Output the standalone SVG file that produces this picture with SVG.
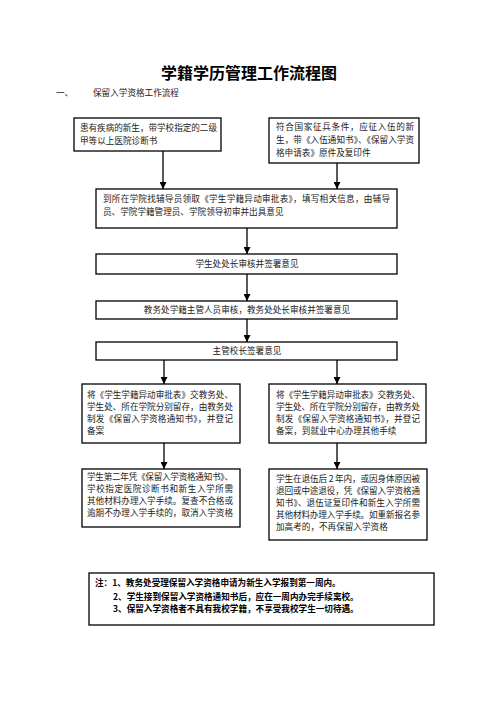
<svg xmlns="http://www.w3.org/2000/svg" width="496" height="702" viewBox="0 0 496 702">
<defs>
<marker id="ah" viewBox="0 0 10 10" refX="10" refY="5" markerWidth="7" markerHeight="7" markerUnits="userSpaceOnUse" orient="auto"><path d="M0,0 L10,5 L0,10 z" fill="#000"/></marker>
</defs>
<style>
.b{fill:#fff;stroke:#000;stroke-width:1.3}
.t{font-family:"Noto Sans CJK SC","Liberation Serif",serif;font-size:8.6px;fill:#222}
.c{text-anchor:middle}
.n{font-family:"Noto Sans CJK SC","Liberation Serif",serif;font-size:8.6px;font-weight:bold;fill:#000}
.l{stroke:#000;stroke-width:1.3;fill:none;marker-end:url(#ah)}
</style>
<rect width="496" height="702" fill="#fff"/>
<text x="249" y="79" text-anchor="middle" font-family="Noto Sans CJK SC,sans-serif" font-size="16" font-weight="bold">学籍学历管理工作流程图</text>
<text x="56" y="96" class="t">一、</text>
<text x="93" y="96" class="t">保留入学资格工作流程</text>

<g id="n1"><rect class="b" x="74" y="118" width="147" height="33"/>
<text class="t" x="80" y="131" textLength="137" lengthAdjust="spacing">患有疾病的新生，带学校指定的二级</text>
<text class="t" x="80" y="144">甲等以上医院诊断书</text></g>

<g id="n2"><rect class="b" x="269" y="118" width="150" height="45"/>
<text class="t" x="276" y="130" textLength="138" lengthAdjust="spacing">符合国家征兵条件，应征入伍的新</text>
<text class="t" x="276" y="143" textLength="138" lengthAdjust="spacing">生，带《入伍通知书》、《保留入学资</text>
<text class="t" x="276" y="156">格申请表》原件及复印件</text></g>

<g id="n3"><rect class="b" x="96" y="189" width="301" height="39"/>
<text class="t" x="103" y="202" textLength="287" lengthAdjust="spacing">到所在学院找辅导员领取《学生学籍异动审批表》，填写相关信息，由辅导</text>
<text class="t" x="103" y="215">员、学院学籍管理员、学院领导初审并出具意见</text></g>

<g id="n4"><rect class="b" x="96" y="254" width="301" height="20"/>
<text class="t c" x="247" y="267">学生处处长审核并签署意见</text></g>

<g id="n5"><rect class="b" x="96" y="301" width="301" height="18"/>
<text class="t c" x="247" y="313">教务处学籍主管人员审核，教务处处长审核并签署意见</text></g>

<g id="n6"><rect class="b" x="96" y="342" width="301" height="18"/>
<text class="t c" x="247" y="354">主管校长签署意见</text></g>

<g id="n7"><rect class="b" x="82" y="384" width="158" height="59"/>
<text class="t" x="87" y="398" textLength="146" lengthAdjust="spacing">将《学生学籍异动审批表》交教务处、</text>
<text class="t" x="87" y="410" textLength="146" lengthAdjust="spacing">学生处、所在学院分别留存，由教务处</text>
<text class="t" x="87" y="422" textLength="146" lengthAdjust="spacing">制发《保留入学资格通知书》，并登记</text>
<text class="t" x="87" y="434">备案</text></g>

<g id="n8"><rect class="b" x="269" y="384" width="157" height="59"/>
<text class="t" x="276" y="398" textLength="144" lengthAdjust="spacing">将《学生学籍异动审批表》交教务处、</text>
<text class="t" x="276" y="410" textLength="144" lengthAdjust="spacing">学生处、所在学院分别留存，由教务处</text>
<text class="t" x="276" y="422" textLength="144" lengthAdjust="spacing">制发《保留入学资格通知书》，并登记</text>
<text class="t" x="276" y="434">备案，到就业中心办理其他手续</text></g>

<g id="n9"><rect class="b" x="82" y="469" width="158" height="58"/>
<text class="t" x="87" y="480" textLength="146" lengthAdjust="spacing">学生第二年凭《保留入学资格通知书》、</text>
<text class="t" x="87" y="492" textLength="146" lengthAdjust="spacing">学校指定医院诊断书和新生入学所需</text>
<text class="t" x="87" y="504" textLength="146" lengthAdjust="spacing">其他材料办理入学手续。复查不合格或</text>
<text class="t" x="87" y="516" textLength="146" lengthAdjust="spacing">逾期不办理入学手续的，取消入学资格</text></g>

<g id="n10"><rect class="b" x="269" y="469" width="158" height="71"/>
<text class="t" x="276" y="482" textLength="144" lengthAdjust="spacing">学生在退伍后 2 年内，或因身体原因被</text>
<text class="t" x="276" y="494" textLength="144" lengthAdjust="spacing">退回或中途退役，凭《保留入学资格通</text>
<text class="t" x="276" y="506" textLength="144" lengthAdjust="spacing">知书》、退伍证复印件和新生入学所需</text>
<text class="t" x="276" y="518" textLength="144" lengthAdjust="spacing">其他材料办理入学手续。如重新报名参</text>
<text class="t" x="276" y="530">加高考的，不再保留入学资格</text></g>

<g id="note"><rect class="b" x="89" y="573" width="345" height="52"/>
<text class="n" x="95" y="586">注：1、教务处受理保留入学资格申请为新生入学报到第一周内。</text>
<text class="n" x="113" y="600">2、学生接到保留入学资格通知书后，应在一周内办完手续离校。</text>
<text class="n" x="113" y="612">3、保留入学资格者不具有我校学籍，不享受我校学生一切待遇。</text></g>

<g id="connectors">
<line class="l" x1="163" y1="151" x2="163" y2="189"/>
<line class="l" x1="337" y1="163" x2="337" y2="189"/>
<line class="l" x1="247" y1="228" x2="247" y2="254"/>
<line class="l" x1="247" y1="274" x2="247" y2="301"/>
<line class="l" x1="247" y1="319" x2="247" y2="342"/>
<line class="l" x1="164" y1="360" x2="164" y2="384"/>
<line class="l" x1="337" y1="360" x2="337" y2="384"/>
<line class="l" x1="164" y1="443" x2="164" y2="469"/>
<line class="l" x1="337" y1="443" x2="337" y2="469"/>
</g>
</svg>
